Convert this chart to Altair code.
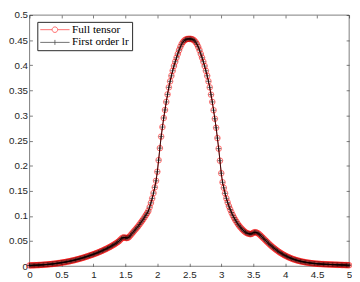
import altair as alt
import numpy as np
import pandas as pd

# ---- data (x from 0 to 5, step 0.02, 251 samples) ----
x_start, x_stop, n_samples = 0.0, 5.0, 251

full_tensor = [
    0.0015, 0.0016, 0.0017, 0.0018, 0.0019, 0.0020, 0.0021, 0.0022, 0.0024, 0.0025,
    0.0027, 0.0029, 0.0031, 0.0033, 0.0035, 0.0037, 0.0040, 0.0042, 0.0045, 0.0048,
    0.0051, 0.0055, 0.0058, 0.0062, 0.0066,
    0.0070, 0.0074, 0.0078, 0.0082, 0.0087, 0.0092, 0.0097, 0.0102, 0.0108, 0.0114,
    0.0120, 0.0126, 0.0133, 0.0140, 0.0147, 0.0154, 0.0161, 0.0169, 0.0177, 0.0185,
    0.0193, 0.0202, 0.0211, 0.0219, 0.0228,
    0.0237, 0.0246, 0.0256, 0.0266, 0.0276, 0.0287, 0.0298, 0.0309, 0.0321, 0.0333,
    0.0345, 0.0358, 0.0371, 0.0385, 0.0399, 0.0414, 0.0429, 0.0445, 0.0462, 0.0480,
    0.0498, 0.0525, 0.0550, 0.0568, 0.0573,
    0.0565, 0.0560, 0.0565, 0.0585, 0.0615, 0.0645, 0.0675, 0.0705, 0.0735, 0.0765,
    0.0795, 0.0830, 0.0865, 0.0900, 0.0935, 0.0975, 0.1015, 0.1055, 0.1100, 0.1175,
    0.1260, 0.1350, 0.1455, 0.1570, 0.1700,
    0.1880, 0.2110, 0.2350, 0.2580, 0.2770, 0.2950, 0.3110, 0.3270, 0.3420, 0.3560,
    0.3680, 0.3790, 0.3890, 0.3985, 0.4070, 0.4150, 0.4225, 0.4300, 0.4365, 0.4420,
    0.4460, 0.4490, 0.4510, 0.4520, 0.4525,
    0.4525, 0.4525, 0.4520, 0.4510, 0.4490, 0.4460, 0.4420, 0.4365, 0.4300, 0.4225,
    0.4150, 0.4070, 0.3985, 0.3890, 0.3790, 0.3680, 0.3560, 0.3415, 0.3270, 0.3105,
    0.2935, 0.2755, 0.2550, 0.2340, 0.2100,
    0.1850, 0.1670, 0.1560, 0.1450, 0.1350, 0.1270, 0.1195, 0.1130, 0.1070, 0.1015,
    0.0965, 0.0920, 0.0880, 0.0840, 0.0805, 0.0775, 0.0745, 0.0720, 0.0695, 0.0675,
    0.0660, 0.0650, 0.0642, 0.0638, 0.0645,
    0.0665, 0.0675, 0.0675, 0.0665, 0.0650, 0.0630, 0.0605, 0.0580, 0.0555, 0.0530,
    0.0505, 0.0480, 0.0455, 0.0430, 0.0408, 0.0386, 0.0365, 0.0345, 0.0325, 0.0306,
    0.0288, 0.0271, 0.0255, 0.0240, 0.0225,
    0.0211, 0.0198, 0.0186, 0.0174, 0.0163, 0.0153, 0.0143, 0.0134, 0.0126, 0.0118,
    0.0111, 0.0104, 0.0098, 0.0092, 0.0087, 0.0082, 0.0077, 0.0073, 0.0069, 0.0065,
    0.0062, 0.0059, 0.0056, 0.0053, 0.0051,
    0.0049, 0.0047, 0.0045, 0.0043, 0.0041, 0.0040, 0.0038, 0.0037, 0.0036, 0.0035,
    0.0034, 0.0033, 0.0032, 0.0031, 0.0030, 0.0029, 0.0028, 0.0027, 0.0026, 0.0025,
    0.0024, 0.0023, 0.0022, 0.0021, 0.0020, 0.0019,
]
# the low-rank curve is visually indistinguishable from the full tensor one
first_order_lr = list(full_tensor)

series_names = ["Full tensor", "First order lr"]
series_colors = ["#ff0000", "#000000"]
x_ticks = [0, 0.5, 1, 1.5, 2, 2.5, 3, 3.5, 4, 4.5, 5]
y_ticks = [0, 0.05, 0.1, 0.15, 0.2, 0.25, 0.3, 0.35, 0.4, 0.45, 0.5]

x_vals = np.linspace(x_start, x_stop, n_samples)
df_full = pd.DataFrame({"x": x_vals, "y": full_tensor})
df_lr = pd.DataFrame({"x": x_vals, "y": first_order_lr})
df_leg = pd.DataFrame({"series": series_names})

AX = "#262626"
FONT = "Liberation Sans"
PLUS = "M-1,0L1,0M0,-1L0,1"
LEG_CIRCLE = ("M-1,0L-0.19,0M0.19,0L1,0M0.19,0A0.19,0.19,0,1,1,-0.19,0"
              "A0.19,0.19,0,1,1,0.19,0Z")
LEG_PLUS = "M-1,0L1,0M0,-0.17L0,0.17"

common_axis = dict(grid=False, title=None, domain=False, tickSize=3, offset=-3,
                   tickColor=AX, tickWidth=0.6, labelFont=FONT, labelFontSize=10,
                   labelColor=AX, labelFlush=False, labelOverlap=False,
                   labelBound=False)

x_bottom = alt.Axis(orient="bottom", values=x_ticks, format=".1~f", labelPadding=4,
                    **common_axis)
y_left = alt.Axis(orient="left", values=y_ticks, format=".2~f", labelPadding=2,
                  **common_axis)
x_top = alt.Axis(orient="top", values=x_ticks, labels=False, **common_axis)
y_right = alt.Axis(orient="right", values=y_ticks, labels=False, **common_axis)

xs = alt.Scale(domain=[0, 5], nice=False)
ys = alt.Scale(domain=[0, 0.5], nice=False)

red_line = alt.Chart(df_full).mark_line(color=series_colors[0], strokeWidth=0.8).encode(
    x=alt.X("x:Q", scale=xs, axis=x_bottom),
    y=alt.Y("y:Q", scale=ys, axis=y_left),
)
red_pts = alt.Chart(df_full).mark_point(
    shape="circle", filled=False, color=series_colors[0], size=33, strokeWidth=0.8
).encode(x=alt.X("x:Q", scale=xs, axis=None), y=alt.Y("y:Q", scale=ys, axis=None))
black_line = alt.Chart(df_lr).mark_line(color=series_colors[1], strokeWidth=0.8).encode(
    x=alt.X("x:Q", scale=xs, axis=x_top),
    y=alt.Y("y:Q", scale=ys, axis=y_right),
)
black_pts = alt.Chart(df_lr).mark_point(
    shape=PLUS, filled=False, color=series_colors[1], size=25, strokeWidth=0.8
).encode(x=alt.X("x:Q", scale=xs, axis=None), y=alt.Y("y:Q", scale=ys, axis=None))

legend = alt.Legend(
    orient="none", legendX=8, legendY=7, title=None,
    labelFont="Liberation Serif", labelFontSize=11.5, labelColor="#000000",
    symbolSize=900, symbolStrokeWidth=0.8, symbolFillColor="transparent",
    strokeColor=AX, fillColor="white", padding=2.5, labelOffset=2,
    clipHeight=11, rowPadding=1,
)
leg_layer = alt.Chart(df_leg).mark_point(filled=False).encode(
    color=alt.Color("series:N", scale=alt.Scale(domain=series_names, range=series_colors),
                    legend=legend),
    shape=alt.Shape("series:N", scale=alt.Scale(domain=series_names,
                                                range=[LEG_CIRCLE, LEG_PLUS]),
                    legend=legend),
).transform_filter("false")

chart = alt.layer(red_line, red_pts, black_line, black_pts, leg_layer).resolve_axis(
    x="independent", y="independent"
).properties(
    width=327, height=257,
    autosize=alt.AutoSizeParams(type="none"),
    padding={"left": 22, "top": 4, "right": 3, "bottom": 13},
).configure_view(stroke=AX, strokeWidth=0.6)

chart.save("out.html", embed_options={"renderer": "svg", "actions": False})
